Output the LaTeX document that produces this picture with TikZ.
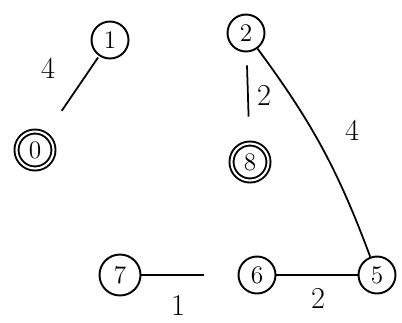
\documentclass[tikz,border=0pt]{standalone}
\begin{document}
\begin{tikzpicture}[x=0.02cm,y=-0.02cm,
  vtx/.style={draw,circle,line width=1.1pt,minimum size=0.74cm,inner sep=0pt,font=\Large},
  dvtx/.style={vtx,double,double distance=1.2pt},
  edge/.style={line width=1pt},
  wlab/.style={font=\LARGE}]
\useasboundingbox (0,0) rectangle (402,322);
\node[vtx] (n1) at (110,40) {1};
\node[dvtx] (n0) at (35,150) {0};
\node[vtx] (n2) at (246,33) {2};
\node[dvtx] (n8) at (250,162) {8};
\node[vtx,minimum height=0.82cm] (n7) at (120,275) {7};
\node[vtx] (n6) at (257,275) {6};
\node[vtx] (n5) at (377,275) {5};
\draw[edge,shorten <=1pt,shorten >=0.56cm] (n1) -- (n0);
\draw[edge,shorten <=0.26cm,shorten >=0.52cm] (n2) -- (n8);
\draw[edge] (n2) to[bend left=8] (n5);
\draw[edge,shorten >=0.68cm] (n7) -- (n6);
\draw[edge] (n6) -- (n5);
\node[wlab] (w10) at (48,68) {4};
\node[wlab] (w28) at (264,95) {2};
\node[wlab] (w25) at (352,130) {4};
\node[wlab] (w76) at (178,305) {1};
\node[wlab] (w65) at (318,298) {2};
\end{tikzpicture}
\end{document}
